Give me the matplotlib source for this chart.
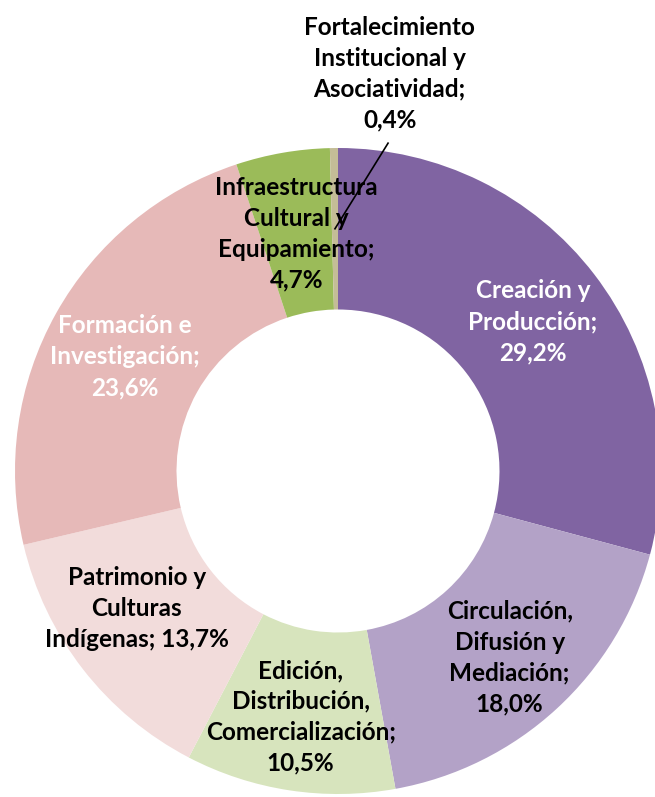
import numpy as np
import matplotlib
matplotlib.use("Agg")
from matplotlib import pyplot as plt

categorias = [
    "Creación y\nProducción",
    "Circulación,\nDifusión y\nMediación",
    "Edición,\nDistribución,\nComercialización",
    "Patrimonio y\nCulturas\nIndígenas",
    "Formación e\nInvestigación",
    "Infraestructura\nCultural y\nEquipamiento",
    "Fortalecimiento\nInstitucional y\nAsociatividad",
]
valores = [29.2, 18.0, 10.5, 13.7, 23.6, 4.7, 0.4]
etiquetas = [
    "Creación y\nProducción;\n29,2%",
    "Circulación,\nDifusión y\nMediación;\n18,0%",
    "Edición,\nDistribución,\nComercialización;\n10,5%",
    "Patrimonio y\nCulturas\nIndígenas; 13,7%",
    "Formación e\nInvestigación;\n23,6%",
    "Infraestructura\nCultural y\nEquipamiento;\n4,7%",
    "Fortalecimiento\nInstitucional y\nAsociatividad;\n0,4%",
]
colores = ["#8064A2", "#B3A2C7", "#D7E4BD", "#F2DCDB", "#E6B9B8", "#9BBB59", "#C4BD97"]
color_texto = ["white", "black", "black", "black", "white", "black", "black"]

plt.rcParams["font.family"] = ["Lato", "DejaVu Sans"]

fig = plt.figure(figsize=(6.55, 7.97), dpi=100)
ax = fig.add_axes([0, 0, 1, 1])

wedges, _ = ax.pie(
    valores,
    colors=colores,
    startangle=90,
    counterclock=False,
    radius=1.0,
    wedgeprops=dict(width=0.5, linewidth=0),
)

# centro del anillo en pixeles (338, 471), radio 323 px
cx, cy, R = 338, 471, 323
ax.set_xlim(-cx / R, (655 - cx) / R)
ax.set_ylim((cy - 797) / R, cy / R)
ax.set_aspect("equal")
ax.axis("off")

fs = 17.5
# radio de la etiqueta y pequeño ajuste de angulo (grados)
radios_etiqueta = [0.76, 0.785, 0.77, 0.755, 0.75, 0.745, None]
ajuste_angulo = [0, 0, 0, -3.5, 1, 0, 0]
for i, w in enumerate(wedges):
    ang = np.deg2rad((w.theta1 + w.theta2) / 2 + ajuste_angulo[i])
    if radios_etiqueta[i] is None:
        # etiqueta externa con linea guia
        px, py = 0.75 * np.cos(ang), 0.75 * np.sin(ang)
        ax.plot([px, 0.155], [py, 1.015], color="black", lw=1.2)
        ax.text(0.16, 1.23, etiquetas[i], ha="center", va="center",
                fontsize=fs, fontweight="bold", color=color_texto[i],
                linespacing=1.42)
        continue
    r = radios_etiqueta[i]
    ax.text(r * np.cos(ang), r * np.sin(ang), etiquetas[i],
            ha="center", va="center", fontsize=fs, fontweight="bold",
            color=color_texto[i], linespacing=1.42)

plt.savefig("out.png", dpi=100)
